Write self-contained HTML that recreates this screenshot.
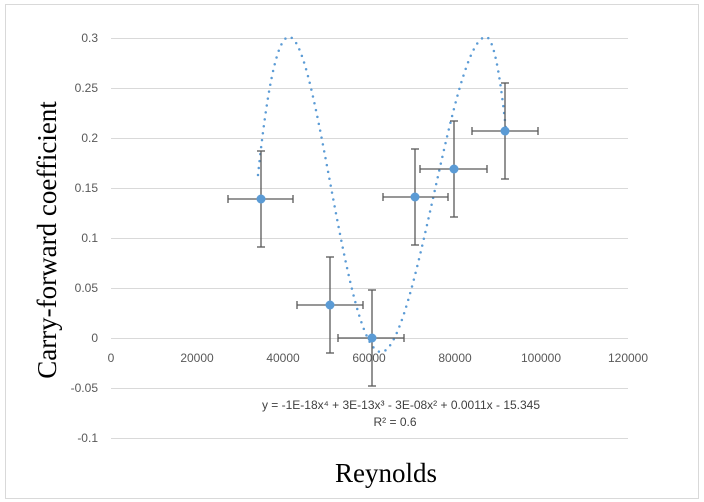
<!DOCTYPE html>
<html><head><meta charset="utf-8"><style>
body{margin:0;background:#fff;}
svg{display:block;font-family:"Liberation Sans",sans-serif;}
</style></head><body>
<svg width="704" height="502" viewBox="0 0 704 502">
<rect x="5.5" y="4.5" width="693" height="494" fill="#fff" stroke="#d9d9d9"/>
<g stroke="#d9d9d9" stroke-width="1">
<line x1="111" x2="628" y1="38.5" y2="38.5"/>
<line x1="111" x2="628" y1="88.5" y2="88.5"/>
<line x1="111" x2="628" y1="138.5" y2="138.5"/>
<line x1="111" x2="628" y1="188.5" y2="188.5"/>
<line x1="111" x2="628" y1="238.5" y2="238.5"/>
<line x1="111" x2="628" y1="288.5" y2="288.5"/>
<line x1="111" x2="628" y1="338.5" y2="338.5"/>
<line x1="111" x2="628" y1="388.5" y2="388.5"/>
<line x1="111" x2="628" y1="438.5" y2="438.5"/>
</g>
<g font-size="12" fill="#595959" text-anchor="end">
<text x="98" y="42">0.3</text><text x="98" y="92">0.25</text><text x="98" y="142">0.2</text>
<text x="98" y="192">0.15</text><text x="98" y="242">0.1</text><text x="98" y="292">0.05</text>
<text x="98" y="342">0</text><text x="98" y="392">-0.05</text><text x="98" y="442">-0.1</text>
</g>
<g font-size="12" fill="#595959" text-anchor="middle">
<text x="111" y="362">0</text><text x="197" y="362">20000</text><text x="283" y="362">40000</text>
<text x="369" y="362">60000</text><text x="455" y="362">80000</text><text x="541" y="362">100000</text>
<text x="628" y="362">120000</text>
</g>
<path fill="none" stroke="#5b9bd5" stroke-width="2.5" stroke-linecap="round" stroke-dasharray="0 7"
 d="M258,175 C266,100 276,37 289,37 C318,37 345,352 381,352 C416,352 452,37 486,37 C495,37 502,90 507,140"/>
<g stroke="#595959" stroke-width="1.3">
<line x1="261" y1="151" x2="261" y2="247"/><line x1="257" y1="151" x2="265" y2="151"/><line x1="257" y1="247" x2="265" y2="247"/>
<line x1="228" y1="199" x2="293" y2="199"/><line x1="228" y1="195" x2="228" y2="203"/><line x1="293" y1="195" x2="293" y2="203"/>
<line x1="330" y1="257" x2="330" y2="353"/><line x1="326" y1="257" x2="334" y2="257"/><line x1="326" y1="353" x2="334" y2="353"/>
<line x1="297" y1="305" x2="363" y2="305"/><line x1="297" y1="301" x2="297" y2="309"/><line x1="363" y1="301" x2="363" y2="309"/>
<line x1="372" y1="290" x2="372" y2="386"/><line x1="368" y1="290" x2="376" y2="290"/><line x1="368" y1="386" x2="376" y2="386"/>
<line x1="338" y1="338" x2="404" y2="338"/><line x1="338" y1="334" x2="338" y2="342"/><line x1="404" y1="334" x2="404" y2="342"/>
<line x1="415" y1="149" x2="415" y2="245"/><line x1="411" y1="149" x2="419" y2="149"/><line x1="411" y1="245" x2="419" y2="245"/>
<line x1="383" y1="197" x2="448" y2="197"/><line x1="383" y1="193" x2="383" y2="201"/><line x1="448" y1="193" x2="448" y2="201"/>
<line x1="454" y1="121" x2="454" y2="217"/><line x1="450" y1="121" x2="458" y2="121"/><line x1="450" y1="217" x2="458" y2="217"/>
<line x1="420" y1="169" x2="487" y2="169"/><line x1="420" y1="165" x2="420" y2="173"/><line x1="487" y1="165" x2="487" y2="173"/>
<line x1="505" y1="83" x2="505" y2="179"/><line x1="501" y1="83" x2="509" y2="83"/><line x1="501" y1="179" x2="509" y2="179"/>
<line x1="472" y1="131" x2="538" y2="131"/><line x1="472" y1="127" x2="472" y2="135"/><line x1="538" y1="127" x2="538" y2="135"/>
</g>
<g fill="#5b9bd5">
<circle cx="261" cy="199" r="4.5"/><circle cx="330" cy="305" r="4.5"/><circle cx="372" cy="338" r="4.5"/>
<circle cx="415" cy="197" r="4.5"/><circle cx="454" cy="169" r="4.5"/><circle cx="505" cy="131" r="4.5"/>
</g>
<text x="401" y="409" font-size="12" fill="#404040" text-anchor="middle">y = -1E-18x⁴ + 3E-13x³ - 3E-08x² + 0.0011x - 15.345</text>
<text x="395" y="426" font-size="12" fill="#404040" text-anchor="middle">R² = 0.6</text>
<text x="386" y="482" font-size="27" font-family="Liberation Serif,serif" fill="#000" text-anchor="middle">Reynolds</text>
<text transform="translate(56,240) rotate(-90)" font-size="27" font-family="Liberation Serif,serif" fill="#000" text-anchor="middle">Carry-forward coefficient</text>
</svg>
</body></html>
